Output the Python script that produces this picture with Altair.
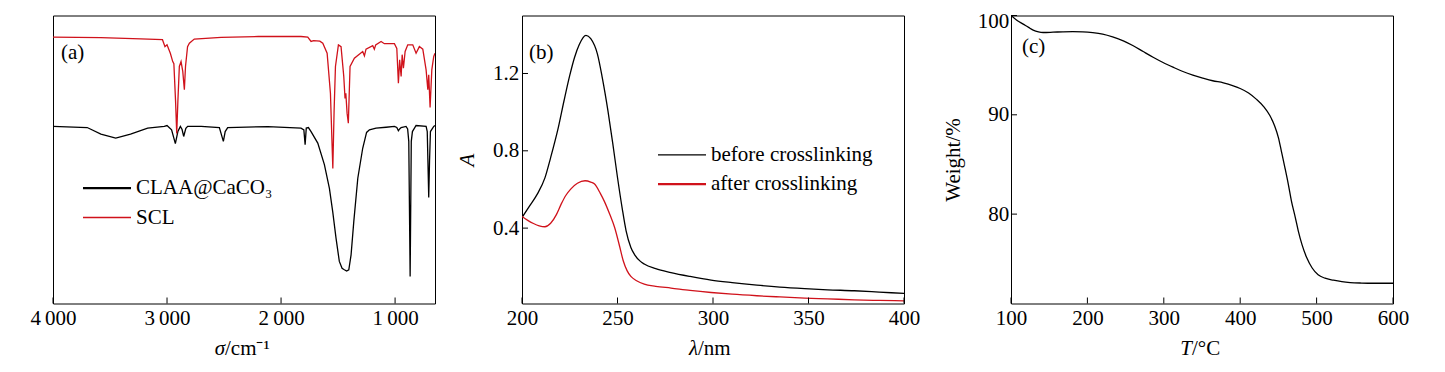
import altair as alt
import pandas as pd

FONT = "Liberation Serif"
FS = 21
RED = "#d0121b"
W, H = 382, 288
TICK_LEN = 6
THIN = "\u2009"

# ---------------- (a) FTIR ----------------
A_SERIES = ["CLAA@CaCO₃", "SCL"]
A_COLORS = ["#000000", RED]
CLAA_WN = [4000, 3700, 3580, 3450, 3320, 3170, 3024, 3000, 2960, 2927,
           2905, 2883, 2868, 2854, 2835, 2819, 2700, 2541, 2506, 2490,
           2468, 2117, 1825, 1800, 1789, 1779, 1760, 1737, 1678, 1620,
           1576, 1547, 1518, 1489, 1465, 1445, 1425, 1406, 1386, 1362,
           1327, 1284, 1250, 1225, 1167, 1079, 1006, 985, 971, 960,
           947, 904, 890, 880, 868, 858, 848, 816, 728, 718,
           712, 705, 698, 690, 661, 650]
CLAA_T = [61.5, 61.1, 58.8, 57.4, 58.8, 60.9, 61.5, 61.8, 60.3, 55.5,
          59.7, 61.5, 60.4, 58.0, 60.8, 61.5, 61.5, 61.1, 56.3, 59.7,
          61.1, 61.4, 60.9, 60.3, 55.1, 60.9, 61.1, 59.7, 55.7, 48.2,
          40.0, 31.9, 22.7, 14.6, 12.2, 11.7, 11.3, 11.7, 16.9, 28.5,
          43.5, 53.9, 59.4, 60.3, 60.9, 61.2, 61.5, 61.1, 60.0, 60.6,
          61.1, 61.5, 60.6, 56.3, 9.4, 56.3, 59.7, 61.8, 61.5, 59.7,
          49.3, 36.8, 49.3, 59.7, 61.5, 61.8]
SCL_WN = [4000, 3580, 3230, 3040, 3018, 3000, 2971, 2950, 2940, 2925,
          2915, 2905, 2892, 2877, 2862, 2848, 2838, 2820, 2804, 2761,
          2526, 2200, 1825, 1766, 1737, 1715, 1660, 1634, 1596, 1567,
          1546, 1535, 1523, 1497, 1474, 1450, 1439, 1432, 1421, 1410,
          1395, 1357, 1284, 1269, 1255, 1196, 1182, 1170, 1123, 1094,
          1006, 985, 971, 960, 947, 938, 927, 912, 889, 845,
          816, 787, 757, 728, 713, 705, 693, 678, 661, 650]
SCL_T = [92.5, 92.3, 91.9, 91.6, 89.2, 89.8, 86.9, 84.0, 83.3, 70.1,
         59.0, 70.1, 82.3, 84.0, 80.6, 74.2, 82.3, 89.2, 90.4, 91.8,
         92.4, 92.7, 92.7, 92.5, 91.0, 91.3, 91.1, 90.4, 86.9, 73.0,
         46.9, 66.7, 82.3, 89.8, 89.2, 78.8, 71.2, 73.0, 66.1, 62.6,
         82.3, 85.2, 87.5, 86.0, 88.3, 89.5, 88.3, 89.8, 91.0, 90.2,
         90.2, 88.6, 76.5, 84.6, 78.8, 86.4, 81.7, 87.5, 89.8, 89.8,
         86.9, 89.2, 88.3, 81.1, 74.2, 79.4, 68.1, 81.1, 85.8, 86.9]
A_X_TICKS = [4000, 3000, 2000, 1000]
A_X_LABELS = ["4" + THIN + "000", "3" + THIN + "000", "2" + THIN + "000", "1" + THIN + "000"]
A_X_DOMAIN = [4000, 650]
A_Y_DOMAIN = [0, 100]
A_X_TITLE = ["σ", "/cm⁻¹"]

# ---------------- (b) UV-Vis ----------------
B_SERIES = ["before crosslinking", "after crosslinking"]
B_COLORS = ["#000000", RED]
BEFORE_WL = [200, 204, 208, 212, 215, 219, 222, 225, 227.5, 230,
             233.5, 236, 239.5, 242, 245, 247.5, 250, 252.5, 254.5, 257,
             259, 262, 264, 270, 278, 288, 299, 310, 323, 335,
             348, 360, 374, 387, 400]
BEFORE_A = [0.455, 0.515, 0.576, 0.66, 0.765, 0.92, 1.059, 1.19, 1.283, 1.35,
            1.397, 1.38, 1.30, 1.18, 1.007, 0.84, 0.662, 0.50, 0.386, 0.30,
            0.262, 0.228, 0.214, 0.19, 0.170, 0.15, 0.131, 0.118, 0.105, 0.095,
            0.087, 0.081, 0.076, 0.069, 0.062]
AFTER_WL = [200, 203, 206, 209, 212, 215, 218, 220.5, 223, 225.5,
            229, 233, 236, 238, 241, 243, 246, 248.5, 251, 253,
            255, 257, 260, 264, 270, 278, 288, 299, 310, 323,
            335, 348, 360, 374, 387, 400]
AFTER_A = [0.46, 0.44, 0.424, 0.412, 0.407, 0.425, 0.47, 0.524, 0.57, 0.602,
           0.632, 0.645, 0.638, 0.628, 0.58, 0.541, 0.47, 0.403, 0.31, 0.231,
           0.18, 0.150, 0.128, 0.110, 0.099, 0.090, 0.078, 0.067, 0.058, 0.050,
           0.044, 0.038, 0.034, 0.029, 0.026, 0.024]
B_X_TICKS = [200, 250, 300, 350, 400]
B_Y_TICKS = [0.4, 0.8, 1.2]
B_X_DOMAIN = [200, 400]
B_Y_DOMAIN = [0.01, 1.5]
B_X_TITLE = ["λ", "/nm"]

# ---------------- (c) TGA ----------------
TGA_T = [100, 108, 116, 123, 129, 136, 142, 155, 168, 181,
         194, 207, 220, 233, 247, 260, 273, 286, 299, 312,
         325, 338, 351, 364, 378, 390, 400, 411, 421, 431,
         439, 445, 450, 454, 458.5, 463, 467, 472, 476, 481,
         487, 494, 502, 511, 522, 533, 544, 559, 574, 600]
TGA_W = [100, 99.5, 99.13, 98.8, 98.53, 98.35, 98.29, 98.32, 98.36, 98.38,
         98.36, 98.28, 98.13, 97.85, 97.45, 96.95, 96.37, 95.8, 95.27, 94.8,
         94.36, 94.0, 93.7, 93.43, 93.22, 92.95, 92.65, 92.2, 91.58, 90.8,
         89.9, 88.9, 87.71, 86.3, 84.69, 83.0, 81.34, 79.7, 78.32, 76.9,
         75.63, 74.6, 73.89, 73.55, 73.35, 73.2, 73.11, 73.06, 73.04, 73.04]
C_X_TICKS = [100, 200, 300, 400, 500, 600]
C_Y_TICKS = [80, 90, 100]
C_X_DOMAIN = [100, 600]
C_Y_DOMAIN = [71, 100]
C_X_TITLE = ["T", "/°C"]


def label_expr(values, labels):
    expr = "''"
    for v, l in reversed(list(zip(values, labels))):
        expr = f"datum.value == {v} ? '{l}' : {expr}"
    return expr


def xticks(values, field, scale, axis):
    return alt.Chart(pd.DataFrame({field: values})).mark_rule(
        color="black", strokeWidth=1).encode(
        x=alt.X(f"{field}:Q", scale=scale, axis=axis),
        y=alt.value(H), y2=alt.value(H - TICK_LEN))


def yticks(values, field, scale, axis):
    return alt.Chart(pd.DataFrame({field: values})).mark_rule(
        color="black", strokeWidth=1).encode(
        y=alt.Y(f"{field}:Q", scale=scale, axis=axis),
        x=alt.value(0), x2=alt.value(TICK_LEN))


def legend_entry(label, color, x0, y, sw, length=48):
    d = pd.DataFrame({"label": [label]})
    rule = alt.Chart(d).mark_rule(color=color, strokeWidth=sw).encode(
        x=alt.value(x0), x2=alt.value(x0 + length), y=alt.value(y))
    text = alt.Chart(d).mark_text(
        align="left", baseline="alphabetic", font=FONT, fontSize=FS, color="black").encode(
        x=alt.value(x0 + length + 5), y=alt.value(y + 6), text="label:N")
    return [rule, text]


def panel_label(t, x, y):
    return alt.Chart(pd.DataFrame({"t": [t]})).mark_text(
        align="left", baseline="alphabetic", font=FONT, fontSize=FS, color="black").encode(
        x=alt.value(x), y=alt.value(y), text="t:N")


def x_title(parts, split_x):
    """Axis title drawn as text: italic symbol + upright unit."""
    ital = alt.Chart(pd.DataFrame({"t": [parts[0]]})).mark_text(
        align="right", baseline="alphabetic", font=FONT, fontSize=FS,
        fontStyle="italic", color="black").encode(
        x=alt.value(split_x), y=alt.value(H + 51.3), text="t:N")
    rest = alt.Chart(pd.DataFrame({"t": [parts[1]]})).mark_text(
        align="left", baseline="alphabetic", font=FONT, fontSize=FS, color="black").encode(
        x=alt.value(split_x), y=alt.value(H + 51.3), text="t:N")
    return [ital, rest]


def xaxis(values, labels=None):
    kw = dict(values=values, title="", labelFlush=False, labelPadding=4,
              labelOverlap=False)
    if labels is not None:
        kw["labelExpr"] = label_expr(values, labels)
    return alt.Axis(**kw)


# ---- panel (a)
df_a = pd.concat([
    pd.DataFrame({"wn": CLAA_WN, "val": CLAA_T, "series": A_SERIES[0]}),
    pd.DataFrame({"wn": SCL_WN, "val": SCL_T, "series": A_SERIES[1]}),
])
xs_a = alt.Scale(domain=A_X_DOMAIN, nice=False, zero=False)
ys_a = alt.Scale(domain=A_Y_DOMAIN, nice=False, zero=False)
xa_a = xaxis(A_X_TICKS, A_X_LABELS)
lines_a = alt.Chart(df_a).mark_line(strokeWidth=1.3, clip=True).encode(
    x=alt.X("wn:Q", scale=xs_a, axis=xa_a),
    y=alt.Y("val:Q", scale=ys_a, axis=None),
    color=alt.Color("series:N", scale=alt.Scale(domain=A_SERIES, range=A_COLORS), legend=None),
)
panel_a = alt.layer(
    lines_a, xticks(A_X_TICKS, "wn", xs_a, xa_a),
    *legend_entry(A_SERIES[0], A_COLORS[0], 30, 172.7, 2.2),
    *legend_entry(A_SERIES[1], A_COLORS[1], 30, 202, 1.3),
    panel_label("(a)", 8, 43.5),
    *x_title(A_X_TITLE, 172),
).properties(width=W, height=H)

# ---- panel (b)
df_b = pd.concat([
    pd.DataFrame({"wl": BEFORE_WL, "a": BEFORE_A, "series": B_SERIES[0]}),
    pd.DataFrame({"wl": AFTER_WL, "a": AFTER_A, "series": B_SERIES[1]}),
])
xs_b = alt.Scale(domain=B_X_DOMAIN, nice=False, zero=False)
ys_b = alt.Scale(domain=B_Y_DOMAIN, nice=False, zero=False)
xa_b = xaxis(B_X_TICKS)
ya_b = alt.Axis(values=B_Y_TICKS, format=".1f", title="A", titleFontStyle="italic",
                labelPadding=3.3, titlePadding=14.7)
lines_b = alt.Chart(df_b).mark_line(strokeWidth=1.3, clip=True, interpolate="monotone").encode(
    x=alt.X("wl:Q", scale=xs_b, axis=xa_b),
    y=alt.Y("a:Q", scale=ys_b, axis=ya_b),
    color=alt.Color("series:N", scale=alt.Scale(domain=B_SERIES, range=B_COLORS), legend=None),
)
panel_b = alt.layer(
    lines_b, xticks(B_X_TICKS, "wl", xs_b, xa_b), yticks(B_Y_TICKS, "a", ys_b, ya_b),
    *legend_entry(B_SERIES[0], B_COLORS[0], 136, 139.3, 1.3),
    *legend_entry(B_SERIES[1], B_COLORS[1], 136, 168.7, 2.2),
    panel_label("(b)", 7, 43.5),
    *x_title(B_X_TITLE, 176),
).properties(width=W, height=H)

# ---- panel (c)
df_c = pd.DataFrame({"t": TGA_T, "w": TGA_W})
xs_c = alt.Scale(domain=C_X_DOMAIN, nice=False, zero=False)
ys_c = alt.Scale(domain=C_Y_DOMAIN, nice=False, zero=False)
xa_c = xaxis(C_X_TICKS)
ya_c = alt.Axis(values=C_Y_TICKS, title="Weight/%", labelPadding=2.3, titlePadding=14.2,
                labelOffset={"condition": {"test": "datum.value == 100", "value": 6}, "value": 0})
line_c = alt.Chart(df_c).mark_line(strokeWidth=1.3, clip=True, interpolate="monotone", color="black").encode(
    x=alt.X("t:Q", scale=xs_c, axis=xa_c),
    y=alt.Y("w:Q", scale=ys_c, axis=ya_c),
)
panel_c = alt.layer(
    line_c, xticks(C_X_TICKS, "t", xs_c, xa_c), yticks(C_Y_TICKS, "w", ys_c, ya_c),
    panel_label("(c)", 11, 37.6),
    *x_title(C_X_TITLE, 181),
).properties(width=W, height=H)

chart = alt.hconcat(panel_a, panel_b, panel_c, spacing=20).properties(
    padding={"left": 21, "top": 1.5, "right": 5, "bottom": 5}
).configure_view(
    stroke="black", strokeWidth=1
).configure_axis(
    labelFont=FONT, titleFont=FONT, labelFontSize=FS, titleFontSize=FS,
    labelColor="black", titleColor="black", titleFontWeight="normal",
    grid=False, ticks=False, domain=False,
)

chart.save("out.html", embed_options={"renderer": "svg", "actions": False})
